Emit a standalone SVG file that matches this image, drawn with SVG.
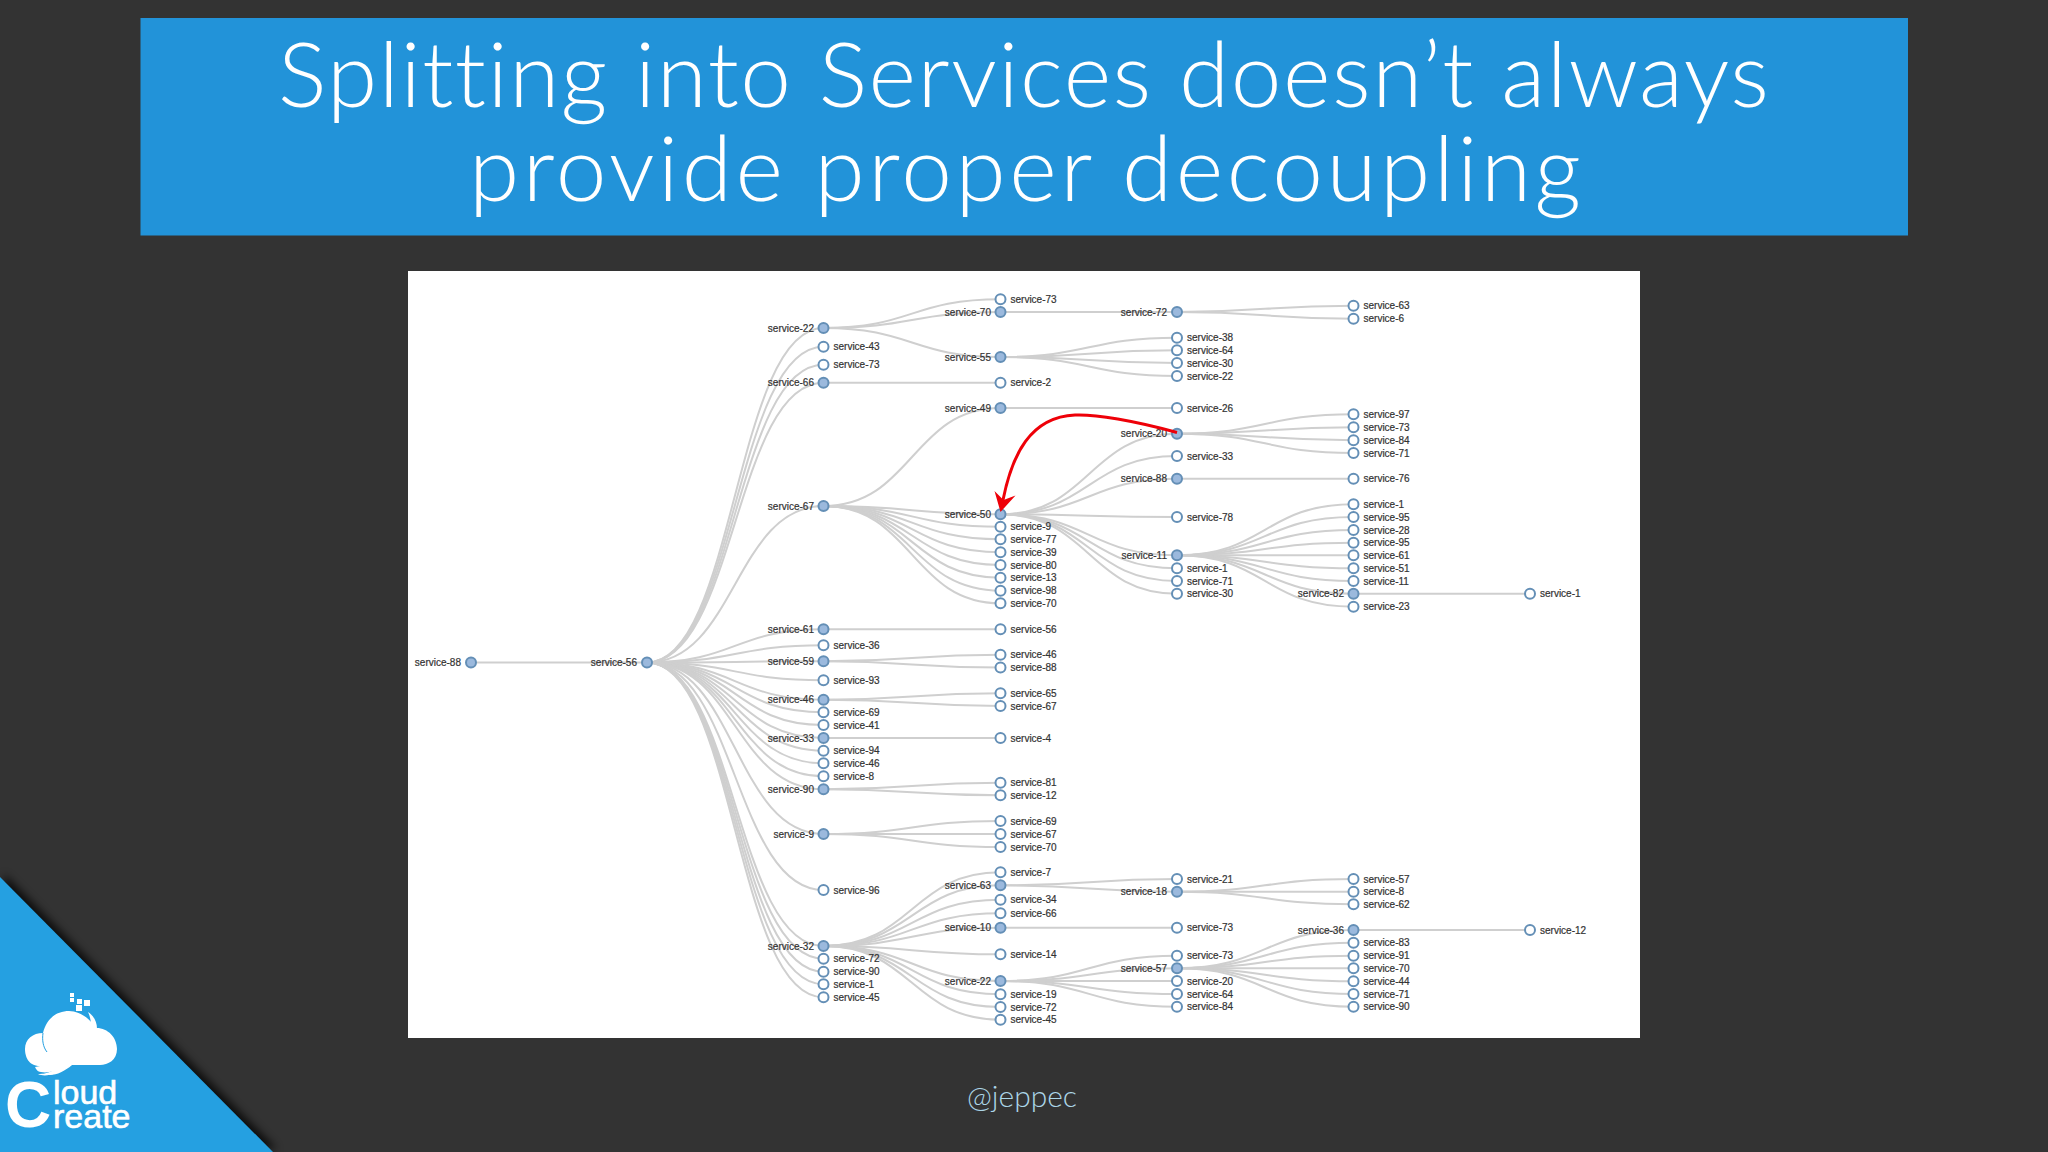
<svg xmlns="http://www.w3.org/2000/svg" width="2048" height="1152" viewBox="0 0 2048 1152">
<style>
.e{fill:none;stroke:#cfcfcf;stroke-width:2}
circle{stroke:#648fb6;stroke-width:2;fill:#fff}
.f{fill:#9bb9dd}
text{font-family:"Liberation Sans",Arial,sans-serif;font-size:10px;fill:#333;stroke:#333;stroke-width:.2}
.r{text-anchor:end}
.t{font-family:Lato,"Open Sans",sans-serif;font-weight:300;font-size:91px;fill:#fff;stroke:none;font-variant-ligatures:none}
.w{fill:#fff}
.lg{font-size:34px;fill:#fff;stroke:#fff;stroke-width:.6}
</style>
<defs>
<filter id="blur" x="-10%" y="-10%" width="120%" height="120%"><feGaussianBlur stdDeviation="4"/></filter>
</defs>
<rect width="2048" height="1152" fill="#333"/>
<g id="title-bar">
<rect x="140.500" y="18" width="1767.500" height="217.500" fill="#2293d9"/>
<text class="t" x="278" y="107" textLength="1491">Splitting into Services doesn’t always</text>
<text class="t" x="469" y="201" textLength="1112">provide proper decoupling</text>
</g>
<rect id="picture" x="408" y="271" width="1232" height="767" fill="#fff"/>
<g id="connectors">
<path class="e" d="M471 662.500H647"/>
<path class="e" d="M647 662.500C735 662.500 735 328 823.500 328"/>
<path class="e" d="M647 662.500C735 662.500 735 346.700 823.500 346.700"/>
<path class="e" d="M647 662.500C735 662.500 735 364.700 823.500 364.700"/>
<path class="e" d="M647 662.500C735 662.500 735 382.700 823.500 382.700"/>
<path class="e" d="M647 662.500C735 662.500 735 506 823.500 506"/>
<path class="e" d="M647 662.500C735 662.500 735 629.300 823.500 629.300"/>
<path class="e" d="M647 662.500C735 662.500 735 645.300 823.500 645.300"/>
<path class="e" d="M647 662.500C735 662.500 735 661.300 823.500 661.300"/>
<path class="e" d="M647 662.500C735 662.500 735 680.300 823.500 680.300"/>
<path class="e" d="M647 662.500C735 662.500 735 699.700 823.500 699.700"/>
<path class="e" d="M647 662.500C735 662.500 735 712.300 823.500 712.300"/>
<path class="e" d="M647 662.500C735 662.500 735 725 823.500 725"/>
<path class="e" d="M647 662.500C735 662.500 735 738 823.500 738"/>
<path class="e" d="M647 662.500C735 662.500 735 750.700 823.500 750.700"/>
<path class="e" d="M647 662.500C735 662.500 735 763.300 823.500 763.300"/>
<path class="e" d="M647 662.500C735 662.500 735 776.300 823.500 776.300"/>
<path class="e" d="M647 662.500C735 662.500 735 789.300 823.500 789.300"/>
<path class="e" d="M647 662.500C735 662.500 735 834 823.500 834"/>
<path class="e" d="M647 662.500C735 662.500 735 890 823.500 890"/>
<path class="e" d="M647 662.500C735 662.500 735 946 823.500 946"/>
<path class="e" d="M647 662.500C735 662.500 735 958.700 823.500 958.700"/>
<path class="e" d="M647 662.500C735 662.500 735 971.700 823.500 971.700"/>
<path class="e" d="M647 662.500C735 662.500 735 984.300 823.500 984.300"/>
<path class="e" d="M647 662.500C735 662.500 735 997.300 823.500 997.300"/>
<path class="e" d="M823.500 328C912 328 912 299.300 1000.500 299.300"/>
<path class="e" d="M823.500 328C912 328 912 312 1000.500 312"/>
<path class="e" d="M823.500 328C912 328 912 357 1000.500 357"/>
<path class="e" d="M823.500 382.700H1000.500"/>
<path class="e" d="M823.500 506C912 506 912 408 1000.500 408"/>
<path class="e" d="M823.500 506C912 506 912 514.300 1000.500 514.300"/>
<path class="e" d="M823.500 506C912 506 912 526.700 1000.500 526.700"/>
<path class="e" d="M823.500 506C912 506 912 539.300 1000.500 539.300"/>
<path class="e" d="M823.500 506C912 506 912 552.300 1000.500 552.300"/>
<path class="e" d="M823.500 506C912 506 912 565 1000.500 565"/>
<path class="e" d="M823.500 506C912 506 912 577.700 1000.500 577.700"/>
<path class="e" d="M823.500 506C912 506 912 590.700 1000.500 590.700"/>
<path class="e" d="M823.500 506C912 506 912 603.300 1000.500 603.300"/>
<path class="e" d="M823.500 629.300H1000.500"/>
<path class="e" d="M823.500 661.300C912 661.300 912 654.700 1000.500 654.700"/>
<path class="e" d="M823.500 661.300C912 661.300 912 667.500 1000.500 667.500"/>
<path class="e" d="M823.500 699.700C912 699.700 912 693.300 1000.500 693.300"/>
<path class="e" d="M823.500 699.700C912 699.700 912 706 1000.500 706"/>
<path class="e" d="M823.500 738H1000.500"/>
<path class="e" d="M823.500 789.300C912 789.300 912 782.700 1000.500 782.700"/>
<path class="e" d="M823.500 789.300C912 789.300 912 795.300 1000.500 795.300"/>
<path class="e" d="M823.500 834C912 834 912 821 1000.500 821"/>
<path class="e" d="M823.500 834H1000.500"/>
<path class="e" d="M823.500 834C912 834 912 847 1000.500 847"/>
<path class="e" d="M823.500 946C912 946 912 872.300 1000.500 872.300"/>
<path class="e" d="M823.500 946C912 946 912 885.300 1000.500 885.300"/>
<path class="e" d="M823.500 946C912 946 912 899.700 1000.500 899.700"/>
<path class="e" d="M823.500 946C912 946 912 913.300 1000.500 913.300"/>
<path class="e" d="M823.500 946C912 946 912 927.700 1000.500 927.700"/>
<path class="e" d="M823.500 946C912 946 912 954.300 1000.500 954.300"/>
<path class="e" d="M823.500 946C912 946 912 981 1000.500 981"/>
<path class="e" d="M823.500 946C912 946 912 994.300 1000.500 994.300"/>
<path class="e" d="M823.500 946C912 946 912 1007 1000.500 1007"/>
<path class="e" d="M823.500 946C912 946 912 1019.700 1000.500 1019.700"/>
<path class="e" d="M1000.500 312H1177"/>
<path class="e" d="M1000.500 357C1089 357 1089 337.700 1177 337.700"/>
<path class="e" d="M1000.500 357C1089 357 1089 350.300 1177 350.300"/>
<path class="e" d="M1000.500 357C1089 357 1089 363 1177 363"/>
<path class="e" d="M1000.500 357C1089 357 1089 376 1177 376"/>
<path class="e" d="M1000.500 408H1177"/>
<path class="e" d="M1000.500 514.300C1089 514.300 1089 433.700 1177 433.700"/>
<path class="e" d="M1000.500 514.300C1089 514.300 1089 456 1177 456"/>
<path class="e" d="M1000.500 514.300C1089 514.300 1089 478.700 1177 478.700"/>
<path class="e" d="M1000.500 514.300C1089 514.300 1089 517 1177 517"/>
<path class="e" d="M1000.500 514.300C1089 514.300 1089 555.300 1177 555.300"/>
<path class="e" d="M1000.500 514.300C1089 514.300 1089 568.300 1177 568.300"/>
<path class="e" d="M1000.500 514.300C1089 514.300 1089 581 1177 581"/>
<path class="e" d="M1000.500 514.300C1089 514.300 1089 593.700 1177 593.700"/>
<path class="e" d="M1000.500 885.300C1089 885.300 1089 879 1177 879"/>
<path class="e" d="M1000.500 885.300C1089 885.300 1089 891.700 1177 891.700"/>
<path class="e" d="M1000.500 927.700H1177"/>
<path class="e" d="M1000.500 981C1089 981 1089 955.700 1177 955.700"/>
<path class="e" d="M1000.500 981C1089 981 1089 968.300 1177 968.300"/>
<path class="e" d="M1000.500 981H1177"/>
<path class="e" d="M1000.500 981C1089 981 1089 994 1177 994"/>
<path class="e" d="M1000.500 981C1089 981 1089 1006.700 1177 1006.700"/>
<path class="e" d="M1177 312C1265 312 1265 305.700 1353.500 305.700"/>
<path class="e" d="M1177 312C1265 312 1265 318.700 1353.500 318.700"/>
<path class="e" d="M1177 433.700C1265 433.700 1265 414.300 1353.500 414.300"/>
<path class="e" d="M1177 433.700C1265 433.700 1265 427.300 1353.500 427.300"/>
<path class="e" d="M1177 433.700C1265 433.700 1265 440.300 1353.500 440.300"/>
<path class="e" d="M1177 433.700C1265 433.700 1265 453 1353.500 453"/>
<path class="e" d="M1177 478.700H1353.500"/>
<path class="e" d="M1177 555.300C1265 555.300 1265 504.300 1353.500 504.300"/>
<path class="e" d="M1177 555.300C1265 555.300 1265 517 1353.500 517"/>
<path class="e" d="M1177 555.300C1265 555.300 1265 530 1353.500 530"/>
<path class="e" d="M1177 555.300C1265 555.300 1265 542.700 1353.500 542.700"/>
<path class="e" d="M1177 555.300H1353.500"/>
<path class="e" d="M1177 555.300C1265 555.300 1265 568.300 1353.500 568.300"/>
<path class="e" d="M1177 555.300C1265 555.300 1265 581 1353.500 581"/>
<path class="e" d="M1177 555.300C1265 555.300 1265 593.700 1353.500 593.700"/>
<path class="e" d="M1177 555.300C1265 555.300 1265 606.700 1353.500 606.700"/>
<path class="e" d="M1177 891.700C1265 891.700 1265 879 1353.500 879"/>
<path class="e" d="M1177 891.700H1353.500"/>
<path class="e" d="M1177 891.700C1265 891.700 1265 904.300 1353.500 904.300"/>
<path class="e" d="M1177 968.300C1265 968.300 1265 930 1353.500 930"/>
<path class="e" d="M1177 968.300C1265 968.300 1265 942.700 1353.500 942.700"/>
<path class="e" d="M1177 968.300C1265 968.300 1265 955.700 1353.500 955.700"/>
<path class="e" d="M1177 968.300H1353.500"/>
<path class="e" d="M1177 968.300C1265 968.300 1265 981.300 1353.500 981.300"/>
<path class="e" d="M1177 968.300C1265 968.300 1265 994 1353.500 994"/>
<path class="e" d="M1177 968.300C1265 968.300 1265 1006.700 1353.500 1006.700"/>
<path class="e" d="M1353.500 593.700H1530"/>
<path class="e" d="M1353.500 930H1530"/>
</g>
<g id="nodes">
<g id="a1"><circle class="f" cx="471" cy="662.500" r="5"/><text class="r" x="461" y="666">service-88</text></g>
<g id="b1"><circle class="f" cx="647" cy="662.500" r="5"/><text class="r" x="637" y="666">service-56</text></g>
<g id="c1"><circle class="f" cx="823.500" cy="328" r="5"/><text class="r" x="814" y="331.500">service-22</text></g>
<g id="c2"><circle cx="823.500" cy="346.700" r="5"/><text x="833.500" y="350.200">service-43</text></g>
<g id="c3"><circle cx="823.500" cy="364.700" r="5"/><text x="833.500" y="368.200">service-73</text></g>
<g id="c4"><circle class="f" cx="823.500" cy="382.700" r="5"/><text class="r" x="814" y="386.200">service-66</text></g>
<g id="c5"><circle class="f" cx="823.500" cy="506" r="5"/><text class="r" x="814" y="509.500">service-67</text></g>
<g id="c6"><circle class="f" cx="823.500" cy="629.300" r="5"/><text class="r" x="814" y="632.800">service-61</text></g>
<g id="c7"><circle cx="823.500" cy="645.300" r="5"/><text x="833.500" y="648.800">service-36</text></g>
<g id="c8"><circle class="f" cx="823.500" cy="661.300" r="5"/><text class="r" x="814" y="664.800">service-59</text></g>
<g id="c9"><circle cx="823.500" cy="680.300" r="5"/><text x="833.500" y="683.800">service-93</text></g>
<g id="c10"><circle class="f" cx="823.500" cy="699.700" r="5"/><text class="r" x="814" y="703.200">service-46</text></g>
<g id="c11"><circle cx="823.500" cy="712.300" r="5"/><text x="833.500" y="715.800">service-69</text></g>
<g id="c12"><circle cx="823.500" cy="725" r="5"/><text x="833.500" y="728.500">service-41</text></g>
<g id="c13"><circle class="f" cx="823.500" cy="738" r="5"/><text class="r" x="814" y="741.500">service-33</text></g>
<g id="c14"><circle cx="823.500" cy="750.700" r="5"/><text x="833.500" y="754.200">service-94</text></g>
<g id="c15"><circle cx="823.500" cy="763.300" r="5"/><text x="833.500" y="766.800">service-46</text></g>
<g id="c16"><circle cx="823.500" cy="776.300" r="5"/><text x="833.500" y="779.800">service-8</text></g>
<g id="c17"><circle class="f" cx="823.500" cy="789.300" r="5"/><text class="r" x="814" y="792.800">service-90</text></g>
<g id="c18"><circle class="f" cx="823.500" cy="834" r="5"/><text class="r" x="814" y="837.500">service-9</text></g>
<g id="c19"><circle cx="823.500" cy="890" r="5"/><text x="833.500" y="893.500">service-96</text></g>
<g id="c20"><circle class="f" cx="823.500" cy="946" r="5"/><text class="r" x="814" y="949.500">service-32</text></g>
<g id="c21"><circle cx="823.500" cy="958.700" r="5"/><text x="833.500" y="962.200">service-72</text></g>
<g id="c22"><circle cx="823.500" cy="971.700" r="5"/><text x="833.500" y="975.200">service-90</text></g>
<g id="c23"><circle cx="823.500" cy="984.300" r="5"/><text x="833.500" y="987.800">service-1</text></g>
<g id="c24"><circle cx="823.500" cy="997.300" r="5"/><text x="833.500" y="1000.800">service-45</text></g>
<g id="d1"><circle cx="1000.500" cy="299.300" r="5"/><text x="1010.500" y="302.800">service-73</text></g>
<g id="d2"><circle class="f" cx="1000.500" cy="312" r="5"/><text class="r" x="991" y="315.500">service-70</text></g>
<g id="d3"><circle class="f" cx="1000.500" cy="357" r="5"/><text class="r" x="991" y="360.500">service-55</text></g>
<g id="d4"><circle cx="1000.500" cy="382.700" r="5"/><text x="1010.500" y="386.200">service-2</text></g>
<g id="d5"><circle class="f" cx="1000.500" cy="408" r="5"/><text class="r" x="991" y="411.500">service-49</text></g>
<g id="d6"><circle class="f" cx="1000.500" cy="514.300" r="5"/><text class="r" x="991" y="517.800">service-50</text></g>
<g id="d7"><circle cx="1000.500" cy="526.700" r="5"/><text x="1010.500" y="530.200">service-9</text></g>
<g id="d8"><circle cx="1000.500" cy="539.300" r="5"/><text x="1010.500" y="542.800">service-77</text></g>
<g id="d9"><circle cx="1000.500" cy="552.300" r="5"/><text x="1010.500" y="555.800">service-39</text></g>
<g id="d10"><circle cx="1000.500" cy="565" r="5"/><text x="1010.500" y="568.500">service-80</text></g>
<g id="d11"><circle cx="1000.500" cy="577.700" r="5"/><text x="1010.500" y="581.200">service-13</text></g>
<g id="d12"><circle cx="1000.500" cy="590.700" r="5"/><text x="1010.500" y="594.200">service-98</text></g>
<g id="d13"><circle cx="1000.500" cy="603.300" r="5"/><text x="1010.500" y="606.800">service-70</text></g>
<g id="d14"><circle cx="1000.500" cy="629.300" r="5"/><text x="1010.500" y="632.800">service-56</text></g>
<g id="d15"><circle cx="1000.500" cy="654.700" r="5"/><text x="1010.500" y="658.200">service-46</text></g>
<g id="d16"><circle cx="1000.500" cy="667.500" r="5"/><text x="1010.500" y="671">service-88</text></g>
<g id="d17"><circle cx="1000.500" cy="693.300" r="5"/><text x="1010.500" y="696.800">service-65</text></g>
<g id="d18"><circle cx="1000.500" cy="706" r="5"/><text x="1010.500" y="709.500">service-67</text></g>
<g id="d19"><circle cx="1000.500" cy="738" r="5"/><text x="1010.500" y="741.500">service-4</text></g>
<g id="d20"><circle cx="1000.500" cy="782.700" r="5"/><text x="1010.500" y="786.200">service-81</text></g>
<g id="d21"><circle cx="1000.500" cy="795.300" r="5"/><text x="1010.500" y="798.800">service-12</text></g>
<g id="d22"><circle cx="1000.500" cy="821" r="5"/><text x="1010.500" y="824.500">service-69</text></g>
<g id="d23"><circle cx="1000.500" cy="834" r="5"/><text x="1010.500" y="837.500">service-67</text></g>
<g id="d24"><circle cx="1000.500" cy="847" r="5"/><text x="1010.500" y="850.500">service-70</text></g>
<g id="d25"><circle cx="1000.500" cy="872.300" r="5"/><text x="1010.500" y="875.800">service-7</text></g>
<g id="d26"><circle class="f" cx="1000.500" cy="885.300" r="5"/><text class="r" x="991" y="888.800">service-63</text></g>
<g id="d27"><circle cx="1000.500" cy="899.700" r="5"/><text x="1010.500" y="903.200">service-34</text></g>
<g id="d28"><circle cx="1000.500" cy="913.300" r="5"/><text x="1010.500" y="916.800">service-66</text></g>
<g id="d29"><circle class="f" cx="1000.500" cy="927.700" r="5"/><text class="r" x="991" y="931.200">service-10</text></g>
<g id="d30"><circle cx="1000.500" cy="954.300" r="5"/><text x="1010.500" y="957.800">service-14</text></g>
<g id="d31"><circle class="f" cx="1000.500" cy="981" r="5"/><text class="r" x="991" y="984.500">service-22</text></g>
<g id="d32"><circle cx="1000.500" cy="994.300" r="5"/><text x="1010.500" y="997.800">service-19</text></g>
<g id="d33"><circle cx="1000.500" cy="1007" r="5"/><text x="1010.500" y="1010.500">service-72</text></g>
<g id="d34"><circle cx="1000.500" cy="1019.700" r="5"/><text x="1010.500" y="1023.200">service-45</text></g>
<g id="e1"><circle class="f" cx="1177" cy="312" r="5"/><text class="r" x="1167" y="315.500">service-72</text></g>
<g id="e2"><circle cx="1177" cy="337.700" r="5"/><text x="1187" y="341.200">service-38</text></g>
<g id="e3"><circle cx="1177" cy="350.300" r="5"/><text x="1187" y="353.800">service-64</text></g>
<g id="e4"><circle cx="1177" cy="363" r="5"/><text x="1187" y="366.500">service-30</text></g>
<g id="e5"><circle cx="1177" cy="376" r="5"/><text x="1187" y="379.500">service-22</text></g>
<g id="e6"><circle cx="1177" cy="408" r="5"/><text x="1187" y="411.500">service-26</text></g>
<g id="e7"><circle class="f" cx="1177" cy="433.700" r="5"/><text class="r" x="1167" y="437.200">service-20</text></g>
<g id="e8"><circle cx="1177" cy="456" r="5"/><text x="1187" y="459.500">service-33</text></g>
<g id="e9"><circle class="f" cx="1177" cy="478.700" r="5"/><text class="r" x="1167" y="482.200">service-88</text></g>
<g id="e10"><circle cx="1177" cy="517" r="5"/><text x="1187" y="520.500">service-78</text></g>
<g id="e11"><circle class="f" cx="1177" cy="555.300" r="5"/><text class="r" x="1167" y="558.800">service-11</text></g>
<g id="e12"><circle cx="1177" cy="568.300" r="5"/><text x="1187" y="571.800">service-1</text></g>
<g id="e13"><circle cx="1177" cy="581" r="5"/><text x="1187" y="584.500">service-71</text></g>
<g id="e14"><circle cx="1177" cy="593.700" r="5"/><text x="1187" y="597.200">service-30</text></g>
<g id="e15"><circle cx="1177" cy="879" r="5"/><text x="1187" y="882.500">service-21</text></g>
<g id="e16"><circle class="f" cx="1177" cy="891.700" r="5"/><text class="r" x="1167" y="895.200">service-18</text></g>
<g id="e17"><circle cx="1177" cy="927.700" r="5"/><text x="1187" y="931.200">service-73</text></g>
<g id="e18"><circle cx="1177" cy="955.700" r="5"/><text x="1187" y="959.200">service-73</text></g>
<g id="e19"><circle class="f" cx="1177" cy="968.300" r="5"/><text class="r" x="1167" y="971.800">service-57</text></g>
<g id="e20"><circle cx="1177" cy="981" r="5"/><text x="1187" y="984.500">service-20</text></g>
<g id="e21"><circle cx="1177" cy="994" r="5"/><text x="1187" y="997.500">service-64</text></g>
<g id="e22"><circle cx="1177" cy="1006.700" r="5"/><text x="1187" y="1010.200">service-84</text></g>
<g id="f1"><circle cx="1353.500" cy="305.700" r="5"/><text x="1363.500" y="309.200">service-63</text></g>
<g id="f2"><circle cx="1353.500" cy="318.700" r="5"/><text x="1363.500" y="322.200">service-6</text></g>
<g id="f3"><circle cx="1353.500" cy="414.300" r="5"/><text x="1363.500" y="417.800">service-97</text></g>
<g id="f4"><circle cx="1353.500" cy="427.300" r="5"/><text x="1363.500" y="430.800">service-73</text></g>
<g id="f5"><circle cx="1353.500" cy="440.300" r="5"/><text x="1363.500" y="443.800">service-84</text></g>
<g id="f6"><circle cx="1353.500" cy="453" r="5"/><text x="1363.500" y="456.500">service-71</text></g>
<g id="f7"><circle cx="1353.500" cy="478.700" r="5"/><text x="1363.500" y="482.200">service-76</text></g>
<g id="f8"><circle cx="1353.500" cy="504.300" r="5"/><text x="1363.500" y="507.800">service-1</text></g>
<g id="f9"><circle cx="1353.500" cy="517" r="5"/><text x="1363.500" y="520.500">service-95</text></g>
<g id="f10"><circle cx="1353.500" cy="530" r="5"/><text x="1363.500" y="533.500">service-28</text></g>
<g id="f11"><circle cx="1353.500" cy="542.700" r="5"/><text x="1363.500" y="546.200">service-95</text></g>
<g id="f12"><circle cx="1353.500" cy="555.300" r="5"/><text x="1363.500" y="558.800">service-61</text></g>
<g id="f13"><circle cx="1353.500" cy="568.300" r="5"/><text x="1363.500" y="571.800">service-51</text></g>
<g id="f14"><circle cx="1353.500" cy="581" r="5"/><text x="1363.500" y="584.500">service-11</text></g>
<g id="f15"><circle class="f" cx="1353.500" cy="593.700" r="5"/><text class="r" x="1344" y="597.200">service-82</text></g>
<g id="f16"><circle cx="1353.500" cy="606.700" r="5"/><text x="1363.500" y="610.200">service-23</text></g>
<g id="f17"><circle cx="1353.500" cy="879" r="5"/><text x="1363.500" y="882.500">service-57</text></g>
<g id="f18"><circle cx="1353.500" cy="891.700" r="5"/><text x="1363.500" y="895.200">service-8</text></g>
<g id="f19"><circle cx="1353.500" cy="904.300" r="5"/><text x="1363.500" y="907.800">service-62</text></g>
<g id="f20"><circle class="f" cx="1353.500" cy="930" r="5"/><text class="r" x="1344" y="933.500">service-36</text></g>
<g id="f21"><circle cx="1353.500" cy="942.700" r="5"/><text x="1363.500" y="946.200">service-83</text></g>
<g id="f22"><circle cx="1353.500" cy="955.700" r="5"/><text x="1363.500" y="959.200">service-91</text></g>
<g id="f23"><circle cx="1353.500" cy="968.300" r="5"/><text x="1363.500" y="971.800">service-70</text></g>
<g id="f24"><circle cx="1353.500" cy="981.300" r="5"/><text x="1363.500" y="984.800">service-44</text></g>
<g id="f25"><circle cx="1353.500" cy="994" r="5"/><text x="1363.500" y="997.500">service-71</text></g>
<g id="f26"><circle cx="1353.500" cy="1006.700" r="5"/><text x="1363.500" y="1010.200">service-90</text></g>
<g id="g1"><circle cx="1530" cy="593.700" r="5"/><text x="1540" y="597.200">service-1</text></g>
<g id="g2"><circle cx="1530" cy="930" r="5"/><text x="1540" y="933.500">service-12</text></g>
</g>
<g id="red-arrow">
<path d="M1177 432.500C1135 421 1095 414 1075 415C1030 417 1012 455 1003 500" fill="none" stroke="#ee0008" stroke-width="3"/>
<path d="M1000.500 512L994.500 491L1003.500 500L1015.500 495.500Z" fill="#ee0008"/>
</g>
<text id="handle" x="967" y="1107" textLength="110" style="font-family:Lato,'Open Sans',sans-serif;font-weight:300;font-size:30px;fill:#acd6e8;stroke:none;font-variant-ligatures:none">@jeppec</text>
<g id="corner">
<path d="M0 877L273 1152H0Z" fill="#000" transform="translate(4 -3)" filter="url(#blur)" opacity=".75"/>
<path d="M0 877L273 1152H0Z" fill="#25a0e1"/>
</g>
<g id="logo">
<rect class="w" x="70" y="993" width="4" height="4"/><rect class="w" x="70" y="998" width="4" height="4"/>
<rect class="w" x="77" y="999" width="5" height="5"/><rect class="w" x="84" y="1000" width="6" height="6"/><rect class="w" x="76" y="1005" width="6" height="6"/>
<path class="w" d="M40 1066C28 1066 25 1056 25 1049C25 1039 33 1033 43 1033C47 1017 58 1011 69 1011C80 1011 92 1020 95 1028C107 1027 117 1037 117 1049C117 1060 108 1065 100 1065H72C65 1071 57 1075 50 1075C42 1075 37 1072 35 1067Z"/>
<path d="M89 1016C100 1032 88 1051 72 1063C60 1072 47 1075 37 1072" fill="none" stroke="#25a0e1" stroke-width="1.500"/>
<path d="M43 1033C42 1040 43 1047 47 1052" fill="none" stroke="#25a0e1" stroke-width="1"/>
<path class="w" d="M88 1012C100 1020 100 1036 88 1050C75 1066 50 1080 38 1074C48 1075 66 1066 80 1050C90 1038 94 1024 88 1012Z"/>
<text x="5" y="1127" style="font-weight:700;font-size:64px;fill:#fff;stroke:none">C</text>
<text class="lg"><tspan x="53" y="1104">loud</tspan><tspan x="53" y="1128">reate</tspan></text>
</g>
</svg>
